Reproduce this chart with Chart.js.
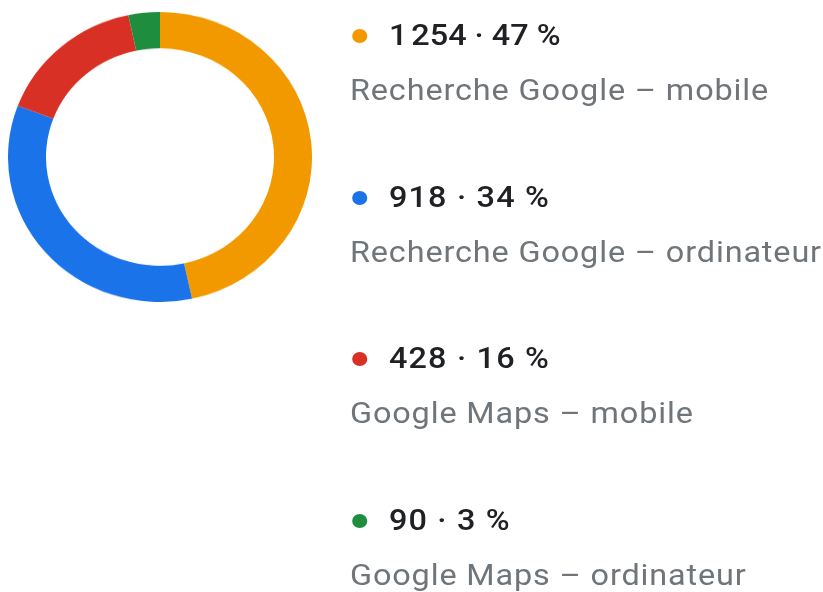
<!DOCTYPE html>
<html>
<head>
<meta charset="utf-8">
<script src="https://cdn.jsdelivr.net/npm/chart.js@4"></script>
<style>
  html, body { margin: 0; padding: 0; background: #fff; }
  body { width: 823px; height: 592px; position: relative; overflow: hidden; font-family: Roboto, "Noto Sans", sans-serif; }
  #ring { position: absolute; left: 8px; top: 12px; width: 304px; height: 304px; transform: scaleY(0.954); transform-origin: 0 0; }
  .item { position: absolute; left: 350px; transform: scaleX(1.08); transform-origin: 0 0; }
  .val { position: absolute; left: 0; top: 0; white-space: nowrap; font-size: 30px; line-height: 34px; font-weight: 500; color: #202124; letter-spacing: 1.1px; }
  .val .dot { display: inline-block; width: 14px; height: 14px; border-radius: 50%; margin: 0 20px 0 2px; vertical-align: 2px; }
  .lab { position: absolute; left: 0; top: 55px; white-space: nowrap; font-size: 30px; line-height: 34px; color: #70757a; letter-spacing: 0.8px; }
</style>
</head>
<body>
<div id="ring"><canvas id="sources" width="304" height="304"></canvas></div>
<div id="legend"></div>
<script>
// sources de recherche
const labels = ['Recherche Google – mobile', 'Recherche Google – ordinateur', 'Google Maps – mobile', 'Google Maps – ordinateur'];
const values = [1254, 918, 428, 90];
const colors = ['#F29900', '#1A73E8', '#D93025', '#1E8E3E'];

document.addEventListener('DOMContentLoaded', () => {
    const ctx = document.getElementById('sources').getContext('2d');
    new Chart(ctx, {
        type: 'doughnut',
        data: {
            labels: labels,
            datasets: [{
                data: values,
                backgroundColor: colors,
                borderWidth: 0,
                hoverOffset: 0
            }]
        },
        options: {
            responsive: false,
            animation: false,
            cutout: '75%',
            layout: { padding: 0 },
            plugins: {
                legend: { display: false },
                tooltip: { enabled: false }
            }
        }
    });

    const total = values.reduce((a, b) => a + b, 0);
    const legend = document.getElementById('legend');
    let html = '';
    values.forEach((v, i) => {
        const pct = Math.round(v / total * 100);
        const top = 18 + i * 161.7;
        html += `
        <div class="item" style="top:${top}px">
            <div class="val"><span class="dot" style="background:${colors[i]}"></span>${v.toLocaleString('fr-FR')} · ${pct} %</div>
            <div class="lab">${labels[i]}</div>
        </div>`;
    });
    legend.innerHTML = html;
});
</script>
</body>
</html>
